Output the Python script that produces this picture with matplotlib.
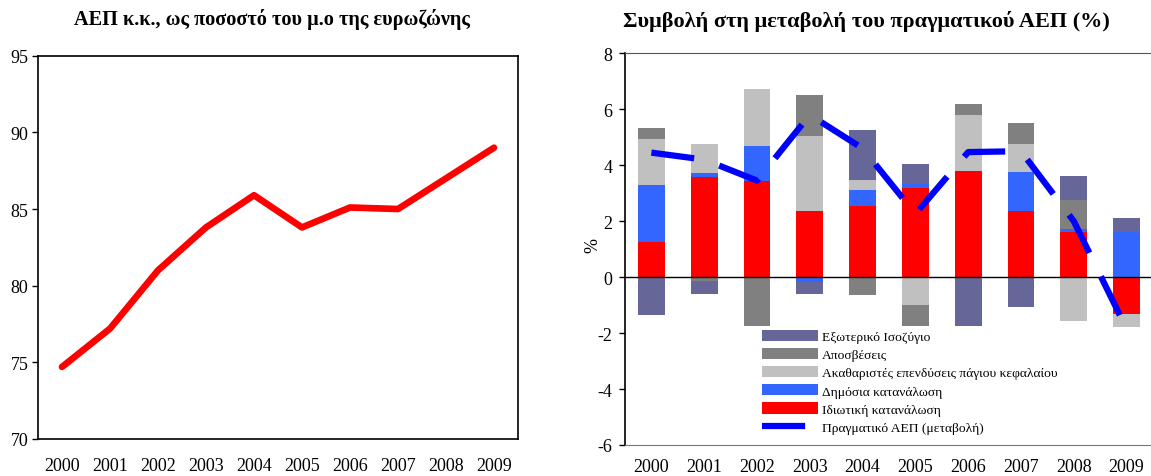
import matplotlib
matplotlib.use("Agg")
import matplotlib.pyplot as plt
import numpy as np

plt.rcParams['font.family'] = ['Liberation Serif', 'DejaVu Serif']
plt.rcParams['axes.unicode_minus'] = False

years = ['2000', '2001', '2002', '2003', '2004', '2005', '2006', '2007', '2008', '2009']
gdp_pc = [74.7, 77.2, 81.0, 83.8, 85.9, 83.8, 85.1, 85.0, 87.0, 89.0]

private_cons = [1.26, 3.58, 3.42, 2.38, 2.53, 3.18, 3.78, 2.38, 1.62, -1.30]
public_cons = [2.05, 0.13, 1.26, -0.18, 0.60, 0.16, 0.0, 1.37, 0.11, 1.60]
gross_inv = [1.62, 1.04, 2.05, 2.66, 0.33, -1.01, 2.02, 1.00, -1.58, -0.47]
depreciation = [0.40, -0.14, -1.76, 1.48, -0.65, -0.75, 0.40, 0.76, 1.01, 0.0]
ext_balance = [-1.37, -0.46, 0.0, -0.42, 1.80, 0.70, -1.73, -1.08, 0.86, 0.53]
real_gdp = [4.45, 4.2, 3.45, 5.8, 4.6, 2.26, 4.47, 4.5, 2.0, -1.85]

labels = ['Ιδιωτική κατανάλωση', 'Δημόσια κατανάλωση',
          'Ακαθαριστές επενδύσεις πάγιου κεφαλαίου', 'Αποσβέσεις',
          'Εξωτερικό Ισοζύγιο']
colors = ['#FF0000', '#3366FF', '#C0C0C0', '#808080', '#666699']
series = [private_cons, public_cons, gross_inv, depreciation, ext_balance]

W, H = 1151, 477
fig = plt.figure(figsize=(W / 100, H / 100), dpi=100)
TICK_FS = 13

# ---------- Left chart ----------
ax1 = fig.add_axes([38 / W, 1 - 440 / H, (518 - 38) / W, (440 - 56.7) / H])
x = np.arange(len(years))
ax1.plot(x, gdp_pc, color='#FF0000', lw=4.8, solid_capstyle='round', solid_joinstyle='round')
ax1.set_xlim(-0.5, len(years) - 0.5)
ax1.set_ylim(70, 95)
ax1.set_yticks([70, 75, 80, 85, 90, 95])
ax1.set_xticks(x)
ax1.set_xticklabels(years)
ax1.tick_params(axis='x', length=0, pad=13, labelsize=TICK_FS)
ax1.tick_params(axis='y', direction='out', length=4, width=1, pad=3, labelsize=TICK_FS)
for s in ax1.spines.values():
    s.set_color('black')
    s.set_linewidth(1.2)
ax1.set_title('ΑΕΠ κ.κ., ως ποσοστό του μ.ο της ευρωζώνης', fontsize=14.6,
              fontweight='bold', pad=23, x=(272 - 38) / 480)

# ---------- Right chart ----------
ax2 = fig.add_axes([625 / W, 1 - 446 / H, (1153 - 625) / W, (446 - 54.3) / H])
pos_bottom = np.zeros(len(years))
neg_bottom = np.zeros(len(years))
handles = {}
for vals, lab, col in zip(series, labels, colors):
    v = np.array(vals)
    bottoms = np.where(v >= 0, pos_bottom, neg_bottom)
    b = ax2.bar(x, v, width=0.51, bottom=bottoms, color=col, label=lab, zorder=2)
    handles[lab] = b
    pos_bottom = pos_bottom + np.where(v > 0, v, 0)
    neg_bottom = neg_bottom + np.where(v < 0, v, 0)

line, = ax2.plot(x, real_gdp, color='#0000FF', lw=4.5, linestyle=(0, (6.9, 4.2)),
                 dash_capstyle='butt', zorder=4, label='Πραγματικό ΑΕΠ (μεταβολή)')
ax2.axhline(0, color='black', lw=1, zorder=3)

ax2.set_xlim(-0.5, len(years) - 0.5)
ax2.set_ylim(-6, 8)
ax2.set_yticks([-6, -4, -2, 0, 2, 4, 6, 8])
ax2.set_xticks(x)
ax2.set_xticklabels(years)
ax2.tick_params(axis='x', length=0, pad=9.5, labelsize=TICK_FS)
ax2.tick_params(axis='y', direction='out', length=4, width=1, pad=5, labelsize=TICK_FS)
ax2.spines['left'].set_color('black')
ax2.spines['left'].set_linewidth(1.2)
ax2.spines['top'].set_color('#555555')
ax2.spines['bottom'].set_color('#777777')
ax2.spines['right'].set_visible(False)
ax2.set_ylabel('%', fontsize=TICK_FS)
ax2.yaxis.set_label_coords(-0.044, 0.513)
ax2.set_title('Συμβολή στη μεταβολή του πραγματικού ΑΕΠ (%)', fontsize=16,
              fontweight='bold', pad=20, x=(866 - 625) / 528)

leg_order = ['Εξωτερικό Ισοζύγιο', 'Αποσβέσεις',
             'Ακαθαριστές επενδύσεις πάγιου κεφαλαίου', 'Δημόσια κατανάλωση',
             'Ιδιωτική κατανάλωση']
h = [handles[l] for l in leg_order] + [line]
lab_list = leg_order + ['Πραγματικό ΑΕΠ (μεταβολή)']
fig.legend(h, lab_list, loc='upper left', bbox_to_anchor=(762 / W, 1 - 331 / H),
           frameon=False, fontsize=9.7, handlelength=4.15, handleheight=0.9,
           labelspacing=0.36, handletextpad=0.33, borderpad=0, borderaxespad=0)

fig.savefig('out.png', dpi=100)
